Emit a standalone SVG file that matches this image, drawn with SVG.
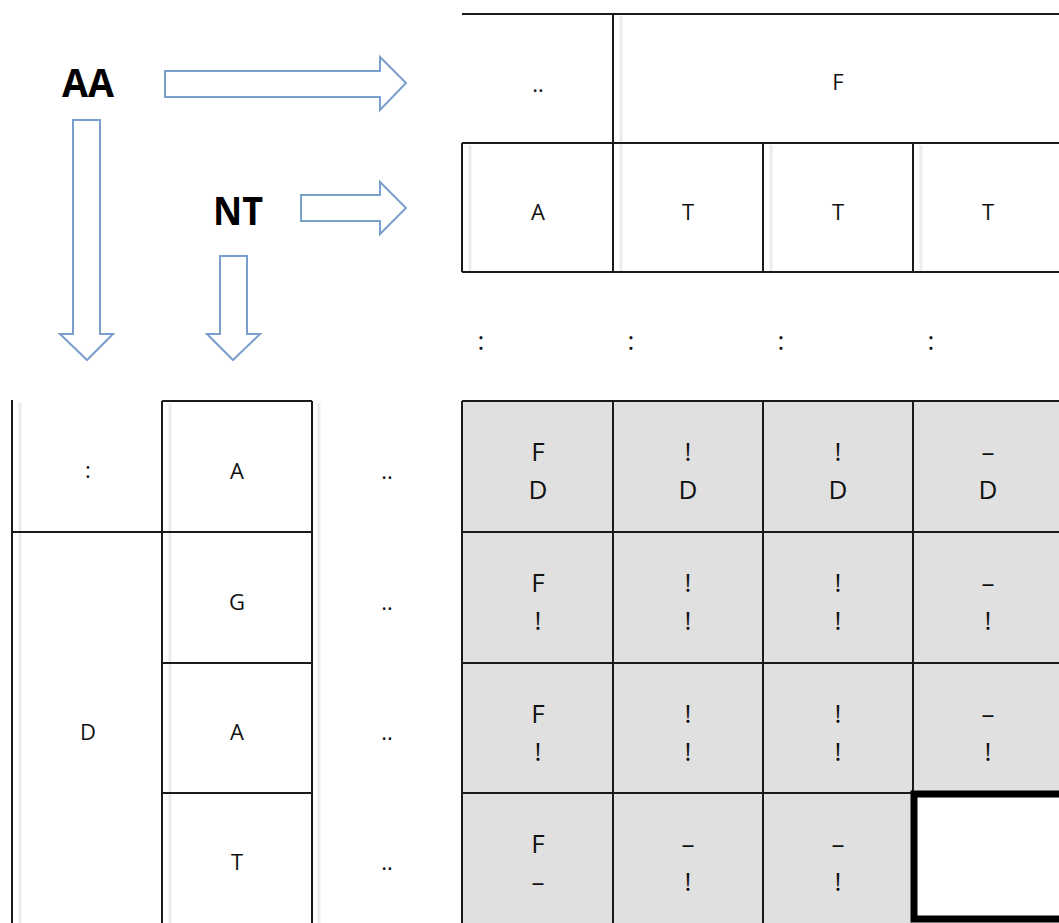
<svg xmlns="http://www.w3.org/2000/svg" width="1059" height="923" viewBox="0 0 1059 923">
<style>
.ln{stroke:#1a1a1a;stroke-width:2;fill:none}
.sh{stroke:#ececec;stroke-width:3;fill:none}
.arr{fill:#ffffff;stroke:#7a9fcc;stroke-width:2;stroke-linejoin:miter}
.t{font-family:"Open Sans","Noto Sans",sans-serif;font-size:22px;fill:#111;text-anchor:middle}
.g{font-family:"Open Sans","Noto Sans",sans-serif;font-size:26px;fill:#111;text-anchor:middle}
.b{font-family:"Open Sans","Noto Sans",sans-serif;font-size:40px;font-weight:bold;fill:#000;text-anchor:middle}
</style>
<rect width="1059" height="923" fill="#ffffff"/>

<g id="label-AA"><text class="b" x="88" y="97" textLength="52" lengthAdjust="spacingAndGlyphs">AA</text></g>
<g id="label-NT"><text class="b" x="238" y="225" textLength="50" lengthAdjust="spacingAndGlyphs">NT</text></g>

<g id="connectors">
<path class="arr" d="M165,71 H380 V57 L406,83 L380,110 V97 H165 Z"/>
<path class="arr" d="M301,195 H380 V182 L406,208 L380,234 V221 H301 Z"/>
<path class="arr" d="M73,120 H100 V334 H113 L87,360 L60,334 H73 Z"/>
<path class="arr" d="M220,256 H247 V334 H260 L233,360 L207,334 H220 Z"/>
</g>

<g id="top-table">
<path class="sh" d="M470,145 V271 M621,16 V271 M771,145 V271 M921,145 V271"/>
<path class="ln" d="M462,14 H1059 M613,14 V143 M462,143 H1059 M462,143 V272 M613,143 V272 M763,143 V272 M913,143 V272 M462,272 H1059"/>
<text class="t" x="538" y="92">..</text>
<text class="t" x="838" y="90">F</text>
<text class="t" x="538" y="220">A</text>
<text class="t" x="688" y="220">T</text>
<text class="t" x="838" y="220">T</text>
<text class="t" x="988" y="220">T</text>
</g>

<g id="colons">
<text class="g" x="481" y="350">:</text>
<text class="g" x="631" y="350">:</text>
<text class="g" x="781" y="350">:</text>
<text class="g" x="931" y="350">:</text>
</g>

<g id="left-table">
<path class="sh" d="M20,403 V923 M170,403 V923 M319,403 V923"/>
<path class="ln" d="M12,400 V923 M12,532 H162 M162,401 H312 M162,401 V923 M312,401 V923 M162,532 H312 M162,663 H312 M162,793 H312"/>
<text class="t" x="88" y="478">:</text>
<text class="t" x="88" y="740">D</text>
<text class="t" x="237" y="479">A</text>
<text class="t" x="237" y="610">G</text>
<text class="t" x="237" y="740">A</text>
<text class="t" x="237" y="870">T</text>
<text class="t" x="387" y="479">..</text>
<text class="t" x="387" y="610">..</text>
<text class="t" x="387" y="740">..</text>
<text class="t" x="387" y="870">..</text>
</g>

<g id="grid">
<rect x="462" y="401" width="600" height="525" fill="#e0e0e0"/>
<path class="ln" d="M462,401 H1059 M462,532 H1059 M462,663 H1059 M462,793 H1059 M462,401 V923 M613,401 V923 M763,401 V923 M913,401 V793"/>
<g id="r1">
<text class="g" x="538" y="461">F</text><text class="g" x="538" y="499">D</text>
<text class="g" x="688" y="461">!</text><text class="g" x="688" y="499">D</text>
<text class="g" x="838" y="461">!</text><text class="g" x="838" y="499">D</text>
<text class="g" x="988" y="461">–</text><text class="g" x="988" y="499">D</text>
</g>
<g id="r2">
<text class="g" x="538" y="592">F</text><text class="g" x="538" y="630">!</text>
<text class="g" x="688" y="592">!</text><text class="g" x="688" y="630">!</text>
<text class="g" x="838" y="592">!</text><text class="g" x="838" y="630">!</text>
<text class="g" x="988" y="592">–</text><text class="g" x="988" y="630">!</text>
</g>
<g id="r3">
<text class="g" x="538" y="723">F</text><text class="g" x="538" y="761">!</text>
<text class="g" x="688" y="723">!</text><text class="g" x="688" y="761">!</text>
<text class="g" x="838" y="723">!</text><text class="g" x="838" y="761">!</text>
<text class="g" x="988" y="723">–</text><text class="g" x="988" y="761">!</text>
</g>
<g id="r4">
<text class="g" x="538" y="853">F</text><text class="g" x="538" y="891">–</text>
<text class="g" x="688" y="853">–</text><text class="g" x="688" y="891">!</text>
<text class="g" x="838" y="853">–</text><text class="g" x="838" y="891">!</text>
</g>
<g id="highlight">
<rect x="914" y="794" width="150" height="125" fill="#ffffff" stroke="#000" stroke-width="7"/>
</g>
</g>
</svg>
